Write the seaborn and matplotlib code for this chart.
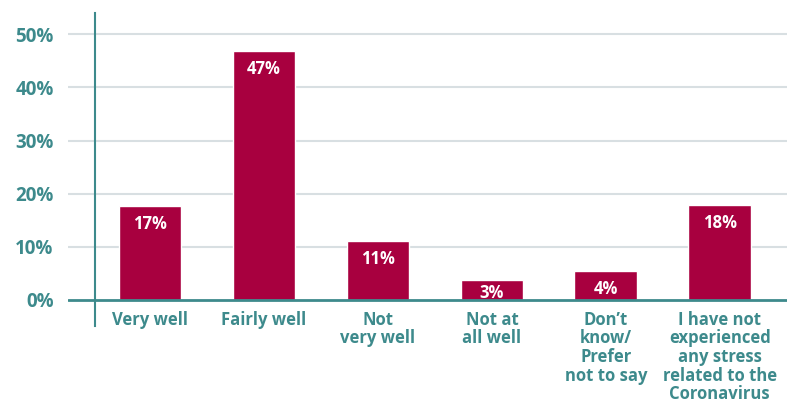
import matplotlib
matplotlib.use('Agg')
import matplotlib.pyplot as plt
import seaborn as sns
import pandas as pd

# data
categories = ['Very well', 'Fairly well', 'Not\nvery well', 'Not at\nall well',
              "Don\u2019t\nknow/\nPrefer\nnot to say",
              'I have not\nexperienced\nany stress\nrelated to the\nCoronavirus']
heights = [17.7, 46.8, 11.1, 3.8, 5.5, 17.9]
value_labels = ['17%', '47%', '11%', '3%', '4%', '18%']
y_ticks = [0, 10, 20, 30, 40, 50]

BAR = '#a8003f'
TEAL = '#3d8a8c'
GRID = '#d8dfe2'

sns.set_style('white')
plt.rcParams['font.family'] = ['Open Sans', 'DejaVu Sans']

df = pd.DataFrame({'cat': categories, 'val': heights})

fig = plt.figure(figsize=(7.87, 4.12), dpi=100)
ax = fig.add_axes([68 / 787, 86 / 412, 1 - 68 / 787, 313 / 412])

sns.barplot(data=df, x='cat', y='val', color=BAR, width=0.55, saturation=1,
            ax=ax, zorder=3)

ax.set_xlim(-0.72, 5.59)
ax.set_ylim(-4.9, 54)

# gridlines and baseline
for t in y_ticks[1:]:
    ax.axhline(t, color=GRID, lw=1.5, zorder=1)
ax.axhline(0, color=TEAL, lw=2, zorder=4)

# left axis line sits inside the axes
for s in ['top', 'right', 'bottom']:
    ax.spines[s].set_visible(False)
ax.spines['left'].set_position(('data', -0.48))
ax.spines['left'].set_color(TEAL)
ax.spines['left'].set_linewidth(1.5)

ax.set_yticks(y_ticks)
ax.set_yticklabels([f'{t}%' for t in y_ticks])
ax.tick_params(axis='y', length=0, pad=30, labelsize=13.5, labelcolor=TEAL)
for lab in ax.get_yticklabels():
    lab.set_fontweight('bold')

ax.set_xticks([])
ax.set_xlabel('')
ax.set_ylabel('')

# category labels under the baseline
for i, c in enumerate(categories):
    ax.text(i, -2.0, c, ha='center', va='top', color=TEAL, fontsize=12,
            fontweight='bold', linespacing=1.05, clip_on=False)

# value labels inside bars
for i, (h, lab) in enumerate(zip(heights, value_labels)):
    ax.text(i, max(h - 3.4, 1.4), lab, ha='center', va='center', color='white',
            fontsize=12, fontweight='bold', zorder=5)

fig.savefig('out.png', dpi=100)
